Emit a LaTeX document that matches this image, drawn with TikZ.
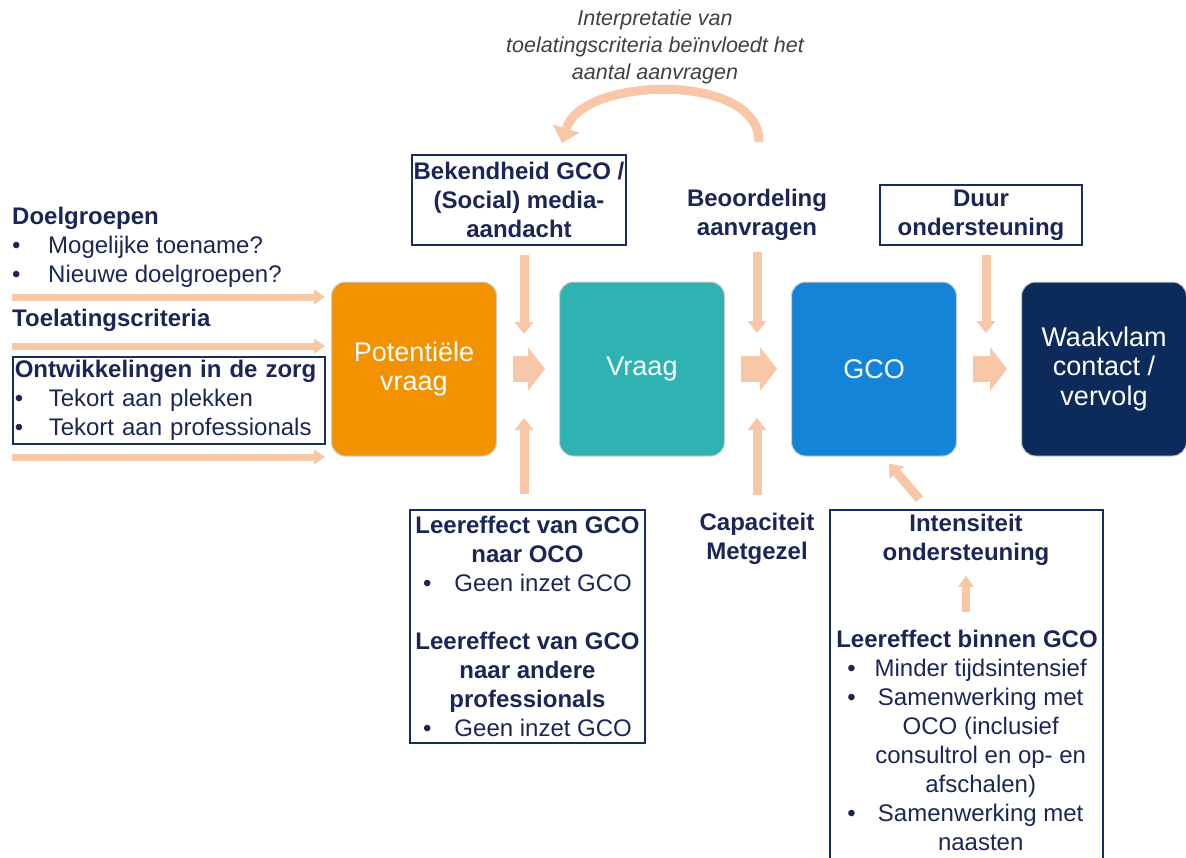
\documentclass[tikz,border=0pt]{standalone}
\usepackage{fontspec}
\setmainfont{Liberation Sans}
\usetikzlibrary{positioning, calc, arrows.meta}
\definecolor{navy}{RGB}{27,38,86}
\definecolor{framec}{RGB}{23,45,94}
\definecolor{peach}{RGB}{248,199,168}
\definecolor{boxgray}{RGB}{205,205,205}
\definecolor{orangebox}{RGB}{243,146,0}
\definecolor{tealbox}{RGB}{46,178,178}
\definecolor{bluebox}{RGB}{19,132,216}
\definecolor{navybox}{RGB}{12,42,90}
\definecolor{notegray}{RGB}{64,64,64}

\begin{document}
\begin{tikzpicture}[x=1pt, y=-1pt,
    mainbox/.style={draw=boxgray, line width=1pt, rounded corners=14pt, minimum width=165pt, minimum height=174pt, text=white, align=center, font=\fontsize{27}{29.5}\selectfont},
    txt/.style={text=navy, inner sep=0pt, font=\fontsize{24}{29}\selectfont},
    head/.style={txt, align=center, font=\fontsize{24}{29}\selectfont\bfseries},
    framebox/.style={draw=framec, line width=1.6pt},
    vbar/.style={draw=peach, line width=9pt, -{Triangle[length=12pt, width=19pt, line width=0pt]}},
    sbar/.style={draw=peach, line width=8pt, -{Triangle[length=11pt, width=16pt, line width=0pt]}},
    hbar/.style={draw=peach, line width=7pt, -{Triangle[length=11pt, width=15pt, line width=0pt]}},
    curvebar/.style={draw=peach, line width=9pt, -{Triangle[length=15pt, width=28pt, line width=0pt]}},
    flowbar/.style={draw=peach, line width=26pt, -{Triangle[length=17pt, width=44pt, line width=0pt]}, shorten <=16pt, shorten >=14pt},
  ]
\path[use as bounding box, clip] (0,0) rectangle (1186,857);

\node[mainbox, fill=orangebox] (pv) at (414,369) {Potentiële\\vraag};
\node[mainbox, fill=tealbox] (vr) at (642,369) {Vraag};
\node[mainbox, fill=bluebox] (gco) at (874,369) {GCO};
\node[mainbox, fill=navybox] (wv) at (1104,369) {Waakvlam\\contact /\\vervolg};
\foreach \a/\b in {pv/vr, vr/gco, gco/wv}
{
    \draw[flowbar] (\a) -- (\b);
}

\node[txt, anchor=west, align=left] (dg) at (12,247) {\textbf{Doelgroepen}\\\makebox[36pt][l]{\textbullet}Mogelijke toename?\\\makebox[36pt][l]{\textbullet}Nieuwe doelgroepen?};
\node[head, anchor=west] (tc) at (12,320) {Toelatingscriteria};
\node[txt, framebox, anchor=west, align=left, text width=308pt, minimum height=87pt, inner xsep=2pt] (oz) at (12,400.5) {\textbf{Ontwikkelingen in de zorg}\\\makebox[34pt][l]{\textbullet}Tekort aan plekken\\\makebox[34pt][l]{\textbullet}Tekort aan professionals};
\coordinate (l1) at (12,297);
\coordinate (l2) at (12,346);
\coordinate (l3) at (12,457);
\foreach \c in {l1,l2,l3}
{
    \draw[hbar, shorten >=6pt] (\c) -- (\c -| pv.west);
}

\node[align=center, text=notegray, inner sep=0pt, font=\fontsize{21.5}{27}\selectfont\itshape] (note) at (655,47) {Interpretatie van\\toelatingscriteria beïnvloedt het\\aantal aanvragen};
\coordinate (cs) at (759,142);
\coordinate (ce) at (562,143);
\draw[curvebar] (cs) .. controls (760,72) and (582,76) .. (ce);

\node[head, framebox, minimum width=214pt, minimum height=90pt] (bek) at (519,200) {Bekendheid GCO /\\(Social) media-\\aandacht};
\node[head] (beo) at (757,215) {Beoordeling\\aanvragen};
\node[head, framebox, minimum width=202pt, minimum height=60pt] (duur) at (981,215) {Duur\\ondersteuning};

\coordinate (j1) at (524,369);
\coordinate (j2) at (757,369);
\coordinate (j3) at (986,369);
\draw[vbar, shorten <=9pt, shorten >=35pt] (j1 |- bek.south) -- (j1);
\draw[vbar, shorten <=11pt, shorten >=36pt] (j2 |- beo.south) -- (j2);
\draw[vbar, shorten <=9pt, shorten >=36pt] (j3 |- duur.south) -- (j3);

\node[txt, framebox, align=center, minimum width=235pt, minimum height=233pt] (leer) at (527.5,626.5) {\textbf{Leereffect van GCO}\\\textbf{naar OCO}\\\textbullet\hspace{23pt}Geen inzet GCO\\[29pt]\textbf{Leereffect van GCO}\\\textbf{naar andere}\\\textbf{professionals}\\\textbullet\hspace{23pt}Geen inzet GCO};
\node[head] (cap) at (757,539) {Capaciteit\\Metgezel};
\draw[vbar, shorten <=15pt, shorten >=49pt] (j1 |- leer.north) -- (j1);
\draw[vbar, shorten <=18pt, shorten >=49pt] (j2 |- cap.north) -- (j2);

\node[framebox, minimum width=273pt, minimum height=380pt] (intbox) at (966.5,700) {};
\node[head] (ints) at (966,540) {Intensiteit\\ondersteuning};
\node[txt, align=center] (lbg) at (967,745) {\textbf{Leereffect binnen GCO}\\\begin{tabular}[t]{@{}l@{\hspace{19pt}}c@{}}
\textbullet & Minder tijdsintensief\\
\textbullet & Samenwerking met\\
 & OCO (inclusief\\
 & consultrol en op- en\\
 & afschalen)\\
\textbullet & Samenwerking met\\
 & naasten
\end{tabular}};
\draw[sbar, shorten <=18pt, shorten >=10pt] (ints.south |- lbg.north) -- (ints.south);
\draw[vbar] ($(intbox.north)+(-47,-10)$) -- ($(gco.south)+(15,7)$);

\end{tikzpicture}
\end{document}
